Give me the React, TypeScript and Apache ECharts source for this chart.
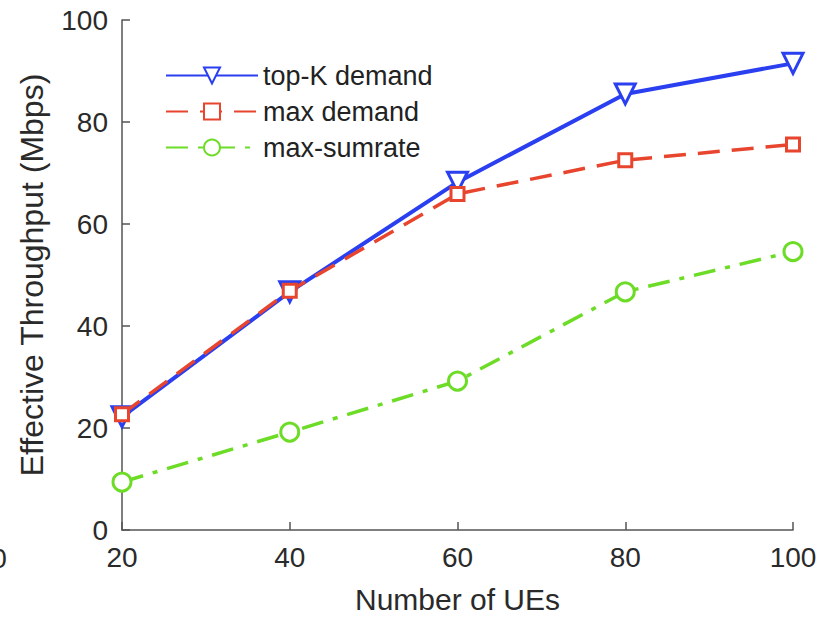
import React, { useEffect, useRef } from "react";
import * as echarts from "echarts";

const ueCounts = [20, 40, 60, 80, 100];
const topKDemand = [22.2, 46.7, 68.2, 85.5, 91.5];
const maxDemand = [22.7, 46.9, 65.9, 72.5, 75.6];
const maxSumrate = [9.4, 19.2, 29.2, 46.7, 54.6];
const yTicks = [0, 20, 40, 60, 80, 100];

const BLUE = "#2a3ff0";
const RED = "#e8452e";
const GREEN = "#6cdc26";
const FONT = "Liberation Sans";

export default function App() {
  const ref = useRef<HTMLDivElement>(null);
  useEffect(() => {
    const chart = echarts.init(ref.current!, null, { renderer: "svg" });
    const mk = (arr: number[]) => ueCounts.map((x, i) => [x, arr[i]]);
    chart.setOption({
      animation: false,
      backgroundColor: "#ffffff",
      textStyle: { fontFamily: FONT },
      grid: { left: 122, right: 29, top: 20, bottom: 91 },
      legend: {
        orient: "vertical",
        left: 165,
        top: 62,
        padding: 0,
        itemWidth: 92,
        itemHeight: 20,
        itemGap: 9,
        textStyle: { fontSize: 27, lineHeight: 26, color: "#222", fontFamily: FONT },
        data: ["top-K demand", "max demand", "max-sumrate"],
      },
      xAxis: {
        type: "value",
        min: 20,
        max: 100,
        interval: 20,
        name: "Number of UEs",
        nameLocation: "middle",
        nameGap: 54,
        nameTextStyle: { fontSize: 30, color: "#2a2a2a", fontFamily: FONT },
        axisLine: { lineStyle: { color: "#555", width: 1.5 } },
        axisTick: { inside: true, length: 8, lineStyle: { color: "#555", width: 1.5 } },
        axisLabel: { fontSize: 28, color: "#2a2a2a", margin: 13, fontFamily: FONT },
        splitLine: { show: false },
      },
      yAxis: {
        type: "value",
        min: yTicks[0],
        max: yTicks[yTicks.length - 1],
        interval: 20,
        name: "Effective Throughput (Mbps)",
        nameLocation: "middle",
        nameGap: 74,
        nameTextStyle: { fontSize: 32, color: "#2a2a2a", fontFamily: FONT },
        axisLine: { show: true, lineStyle: { color: "#555", width: 1.5 } },
        axisTick: { show: true, inside: true, length: 8, lineStyle: { color: "#555", width: 1.5 } },
        axisLabel: { fontSize: 28, color: "#2a2a2a", margin: 14, fontFamily: FONT },
        splitLine: { show: false },
      },
      series: [
        {
          name: "top-K demand",
          type: "line",
          data: mk(topKDemand),
          symbol: "triangle",
          symbolRotate: 180,
          symbolSize: 20,
          itemStyle: { color: "#fff", borderColor: BLUE, borderWidth: 3 },
          lineStyle: { color: BLUE, width: 4 },
          z: 3,
        },
        {
          name: "max demand",
          type: "line",
          data: mk(maxDemand),
          symbol: "rect",
          symbolSize: 13,
          itemStyle: { color: "#fff", borderColor: RED, borderWidth: 3 },
          lineStyle: { color: RED, width: 3.5, type: [22, 12] },
          z: 4,
        },
        {
          name: "max-sumrate",
          type: "line",
          data: mk(maxSumrate),
          symbol: "circle",
          symbolSize: 18,
          itemStyle: { color: "#fff", borderColor: GREEN, borderWidth: 3 },
          lineStyle: { color: GREEN, width: 3.5, type: [22, 10, 5, 10] },
          z: 5,
        },
      ],
      graphic: [
        {
          type: "text",
          left: -40,
          top: 544,
          style: { text: "100", font: `28px ${FONT}`, fill: "#2a2a2a" },
        },
      ],
    });
    return () => chart.dispose();
  }, []);
  return (
    <div
      ref={ref}
      style={{ position: "fixed", left: 0, top: 0, width: 822, height: 621 }}
    />
  );
}
